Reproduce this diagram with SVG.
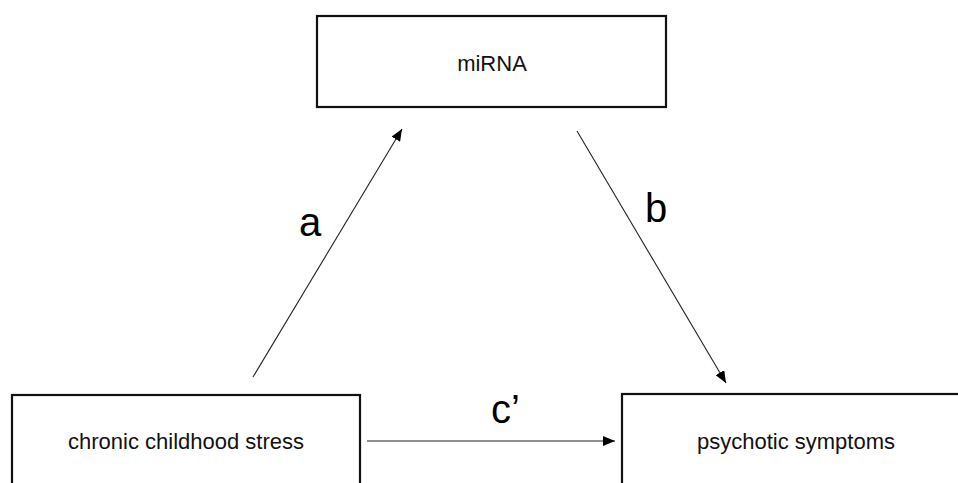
<svg xmlns="http://www.w3.org/2000/svg" width="958" height="483" viewBox="0 0 958 483">
<defs>
<marker id="arr" viewBox="0 0 12 10" refX="12" refY="5" markerWidth="12" markerHeight="10" markerUnits="userSpaceOnUse" orient="auto">
<path d="M0,0 L12,5 L0,10 Z" fill="#000"/>
</marker>
</defs>
<style>
.box{fill:#fff;stroke:#111;stroke-width:2.2}
.t{font-family:"Liberation Sans",Arial,sans-serif;font-size:22px;fill:#111;text-anchor:middle}
.lbl{font-family:"Liberation Sans",Arial,sans-serif;font-size:40px;fill:#000}
.ln{stroke:#222;stroke-width:1.1;fill:none;marker-end:url(#arr)}
</style>
<rect width="958" height="483" fill="#fff"/>
<g id="miRNA">
<rect class="box" x="317" y="16" width="349" height="91"/>
<text class="t" x="492" y="71">miRNA</text>
</g>
<g id="stress">
<rect class="box" x="12" y="395" width="348" height="120"/>
<text class="t" x="186" y="449">chronic childhood stress</text>
</g>
<g id="psychotic">
<rect class="box" x="622" y="394" width="360" height="120"/>
<text class="t" x="796" y="449">psychotic symptoms</text>
</g>
<g id="connectors">
<line class="ln" x1="253" y1="377" x2="402" y2="129"/>
<line class="ln" x1="577" y1="131" x2="726" y2="383"/>
<line class="ln" x1="367" y1="441" x2="615" y2="441"/>
<text class="lbl" x="299" y="236">a</text>
<text class="lbl" x="645" y="222">b</text>
<text class="lbl" x="491" y="423">c’</text>
</g>
</svg>
